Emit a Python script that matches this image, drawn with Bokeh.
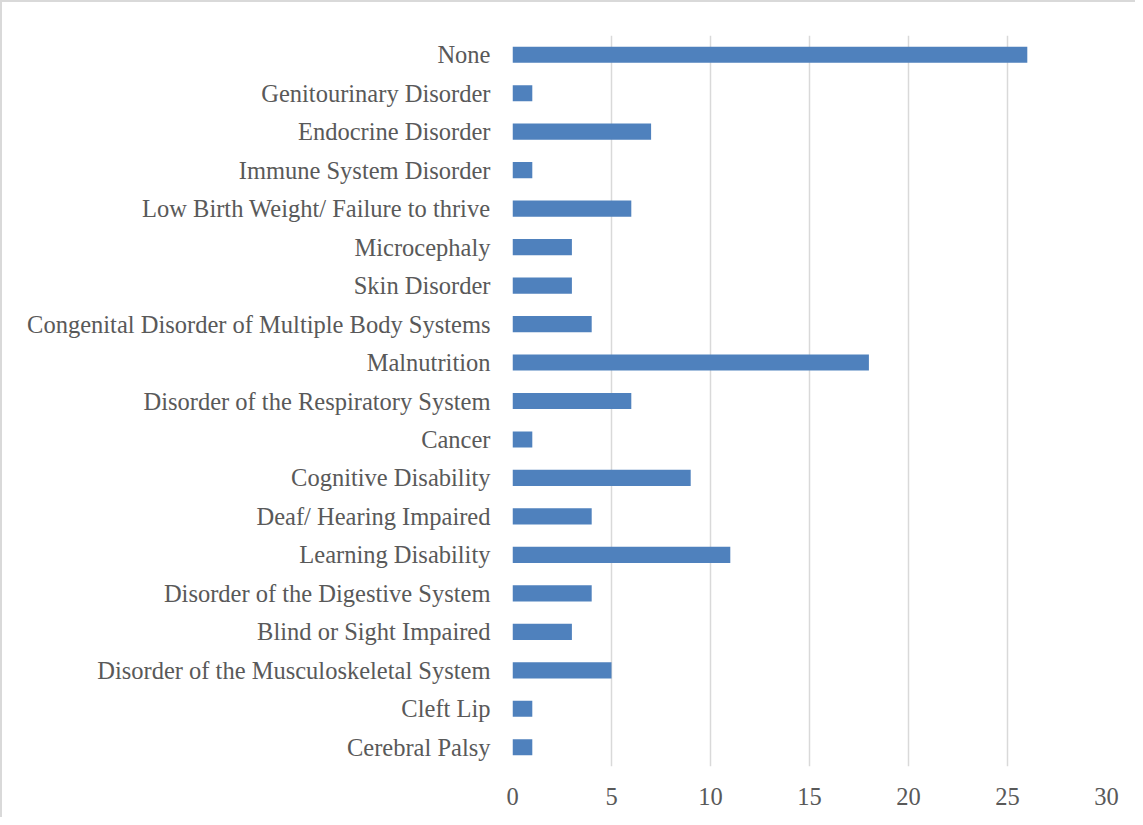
from bokeh.plotting import figure
from bokeh.models import FactorRange, Range1d, FixedTicker, ColumnDataSource
from bokeh.embed import file_html
from bokeh.resources import INLINE

categories = [
    "Cerebral Palsy",
    "Cleft Lip",
    "Disorder of the Musculoskeletal System",
    "Blind or Sight Impaired",
    "Disorder of the Digestive System",
    "Learning Disability",
    "Deaf/ Hearing Impaired",
    "Cognitive Disability",
    "Cancer",
    "Disorder of the Respiratory System",
    "Malnutrition",
    "Congenital Disorder of Multiple Body Systems",
    "Skin Disorder",
    "Microcephaly",
    "Low Birth Weight/ Failure to thrive",
    "Immune System Disorder",
    "Endocrine Disorder",
    "Genitourinary Disorder",
    "None",
]
counts = [1, 1, 5, 3, 4, 11, 4, 9, 1, 6, 18, 4, 3, 3, 6, 1, 7, 1, 26]
x_ticks = [0, 5, 10, 15, 20, 25, 30]

FONT = "Liberation Serif"
TEXT_COLOR = "#595959"

source = ColumnDataSource(dict(cat=categories, val=counts))

p = figure(
    width=1135, height=817,
    y_range=FactorRange(factors=categories),
    x_range=Range1d(0, 30),
    output_backend="svg", toolbar_location=None,
    min_border_left=510, min_border_right=31,
    min_border_top=33, min_border_bottom=53,
)
p.hbar(y="cat", right="val", left=0, height=0.42, source=source,
       fill_color="#4F81BD", line_color=None)

p.outline_line_color = None
p.ygrid.grid_line_color = None
p.xgrid.grid_line_color = "#D9D9D9"
p.xgrid.grid_line_width = 1.5
p.xaxis.ticker = FixedTicker(ticks=x_ticks)

for ax in (p.xaxis, p.yaxis):
    ax.axis_line_color = None
    ax.major_tick_line_color = None
    ax.minor_tick_line_color = None
    ax.major_tick_out = 0
    ax.major_tick_in = 0
    ax.minor_tick_out = 0
    ax.major_label_text_font = FONT
    ax.major_label_text_font_size = "24.5px"
    ax.major_label_text_color = TEXT_COLOR
p.yaxis.major_label_standoff = 22
p.xaxis.major_label_standoff = 21

p.styles = {"border-top": "2px solid #D9D9D9", "border-left": "2px solid #D9D9D9",
            "box-sizing": "border-box"}

open("out.html", "w").write(file_html(p, INLINE))
